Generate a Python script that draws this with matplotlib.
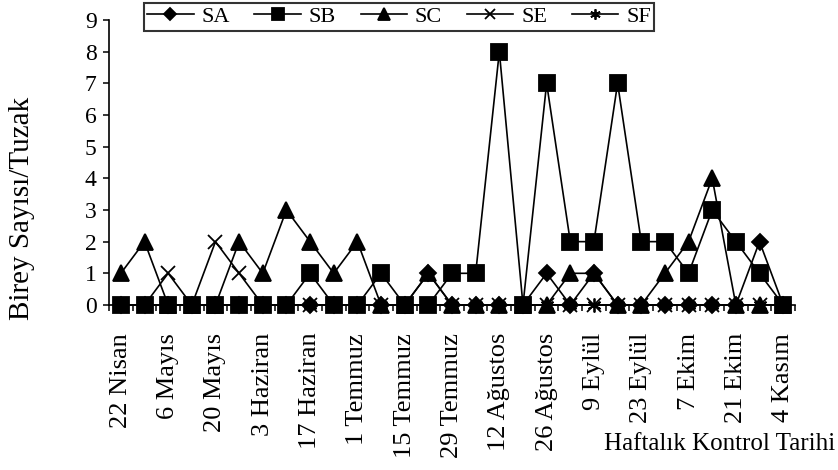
import matplotlib
matplotlib.use('Agg')
import matplotlib.pyplot as plt
import numpy as np

plt.rcParams['font.family'] = ['Liberation Serif', 'DejaVu Serif']

# haftalik kontrol tarihleri (her iki haftada bir etiket)
tarihler = ["22 Nisan", "6 Mayıs", "20 Mayıs", "3 Haziran", "17 Haziran",
            "1 Temmuz", "15 Temmuz", "29 Temmuz", "12 Ağustos", "26 Ağustos",
            "9 Eylül", "23 Eylül", "7 Ekim", "21 Ekim", "4 Kasım"]

sa = [0, 0, 0, 0, 0, 0, 0, 0, 0, 0, 0, 0, 0, 1, 0, 0, 0, 0, 1, 0, 1, 0, 0, 0, 0, 0, 0, 2, 0]
sb = [0, 0, 0, 0, 0, 0, 0, 0, 1, 0, 0, 1, 0, 0, 1, 1, 8, 0, 7, 2, 2, 7, 2, 2, 1, 3, 2, 1, 0]
sc = [1, 2, 0, 0, 0, 2, 1, 3, 2, 1, 2, 0, 0, 1, 0, 0, 0, 0, 0, 1, 1, 0, 0, 1, 2, 4, 0, 0, 0]
se = [0, 0, 1, 0, 2, 1, 0, 0, 0, 0, 0, 0, 0, 0, 0, 0, 0, 0, 0, 0, 0, 0, 0, 0, 0, 0, 0, 0, 0]
sf = [0, 0, 0, 0, 0, 0, 0, 0, 0, 0, 0, 0, 0, 0, 0, 0, 0, 0, 0, 0, 0, 0, 0, 0, 0, 0, 0, 0, 0]

seriler = [("SA", sa, "D", 8.5), ("SB", sb, "s", 11), ("SC", sc, "^", 11),
           ("SE", se, "x", 10), ("SF", sf, (6, 2, 0), 10)]

fig = plt.figure(figsize=(8.38, 4.70), dpi=100)
ax = fig.add_axes([0.1301, 0.3511, 0.8186, 0.6064])

x = np.arange(len(sa))
for ad, y, m, ms in seriler:
    ax.plot(x, y, color="black", lw=1.2, marker=m, ms=ms, mfc="black",
            mec="black", mew=1.3, label=ad, clip_on=False)

ax.set_xlim(-0.5, len(sa) - 0.5)
ax.set_ylim(0, 9)
ax.set_yticks(range(0, 10))
ax.set_xticks(range(0, len(sa), 2))
ax.set_xticklabels(tarihler, rotation=90, fontsize=19)
ax.set_xticks(np.arange(-0.5, len(sa), 1), minor=True)
ax.tick_params(axis="x", which="major", length=0, pad=20)
ax.tick_params(axis="x", which="minor", length=4, width=1.1, direction="out")
ax.tick_params(axis="y", length=4, width=1.1, labelsize=17, pad=5)

for s in ["top", "right"]:
    ax.spines[s].set_visible(False)
for s in ["left", "bottom"]:
    ax.spines[s].set_linewidth(1.2)

fig.text(0.026, 0.557, "Birey Sayısı/Tuzak", rotation=90, ha="center",
         va="center", fontsize=21)
fig.text(0.997, 0.055, "Haftalık Kontrol Tarihi", ha="right", va="center",
         fontsize=18)

leg = fig.legend(loc="upper center", bbox_to_anchor=(0.476, 0.993), ncol=5,
                 fontsize=16, frameon=True, fancybox=False, edgecolor="black",
                 handlelength=2.1, handletextpad=0.35, columnspacing=1.1,
                 borderpad=0.15, borderaxespad=0, markerscale=0.75)
leg.get_frame().set_linewidth(1.5)

fig.savefig("out.png", dpi=100)
